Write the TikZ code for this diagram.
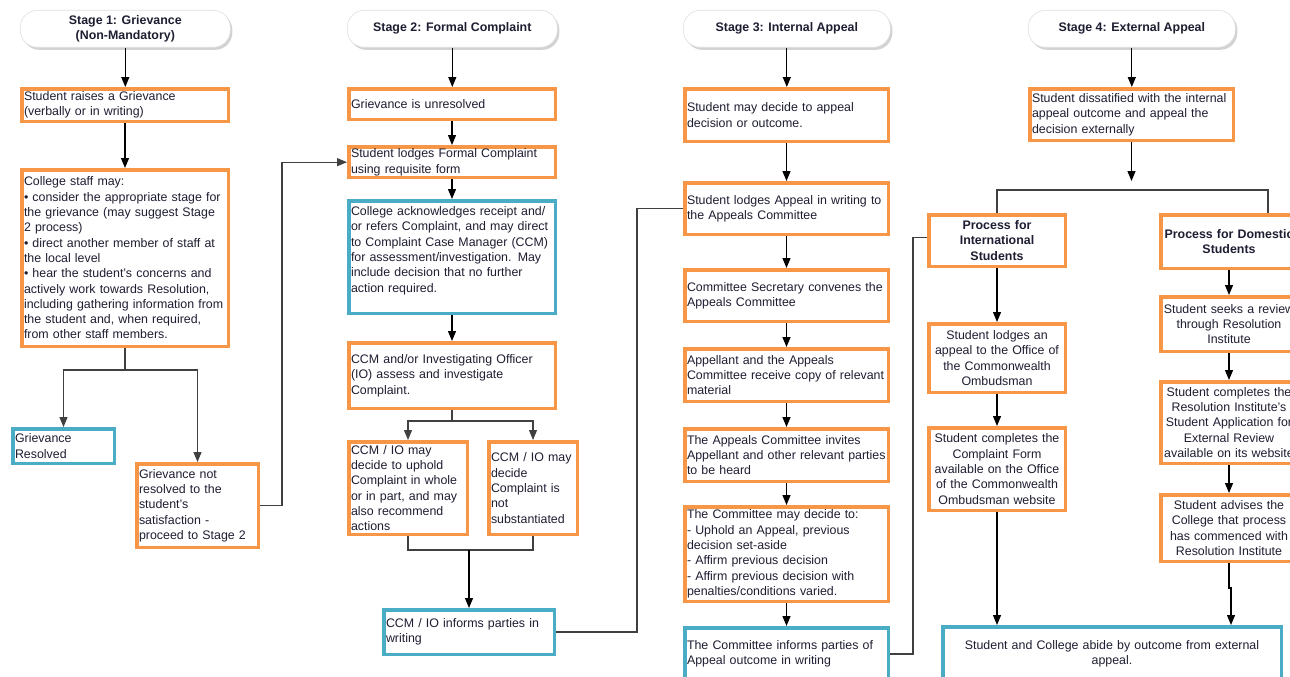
\documentclass[tikz,border=0pt]{standalone}
\usepackage{fontspec}
\setmainfont{Liberation Sans}
\usetikzlibrary{arrows.meta,shadows,calc}
\definecolor{orgC}{HTML}{F79646}
\definecolor{bluC}{HTML}{4BACC6}
\definecolor{txtC}{HTML}{1E1E32}
\begin{document}
\begin{tikzpicture}[x=1pt,y=-1pt,
  base/.style={font=\fontsize{12.4}{15.3}\selectfont, text=txtC, inner xsep=2.25pt, inner ysep=2pt, anchor=north west, fill=white},
  ob/.style={base, draw=orgC, line width=3.5pt},
  bb/.style={base, draw=bluC, line width=3.5pt},
  hdr/.style={font=\fontsize{12.4}{15.3}\selectfont\bfseries, text=txtC, rounded corners=17pt, draw=gray!25, line width=0.6pt, fill=white, drop shadow={shadow xshift=2pt, shadow yshift=-2.5pt, opacity=0.35, fill=gray}, align=center, anchor=north west, inner sep=0pt},
  arr/.style={-{Triangle[length=10pt,width=8pt]}, line width=1.2pt, draw=black},
  ln/.style={line width=1.1pt, draw=black!75},
  lnarr/.style={ln, -{Triangle[length=10pt,width=8pt]}},
]
\useasboundingbox (0,0) rectangle (1290,677);
\fill[white] (0,0) rectangle (1290,677);

% ---------- Stage 1 ----------
\node[hdr, minimum width=210pt, minimum height=37pt] (A0) at (20,10) {Stage 1: Grievance\\(Non-Mandatory)};
\node[ob, text width=202pt, minimum height=32.5pt, align=left] (A1) at (20,87) {Student raises a Grievance\\(verbally or in writing)};
\node[ob, text width=202pt, minimum height=176.5pt, align=left] (A2) at (20,168) {College staff may:\\• consider the appropriate stage for\\the grievance (may suggest Stage\\2 process)\\• direct another member of staff at\\the local level\\• hear the student's concerns and\\actively work towards Resolution,\\including gathering information from\\the student and, when required,\\from other staff members.};
\node[bb, text width=97pt, minimum height=34.5pt, align=left] (A3) at (11,427) {Grievance\\Resolved};
\node[ob, text width=117pt, minimum height=83.5pt, align=left] (A4) at (135,462) {Grievance not\\resolved to the\\student's\\satisfaction -\\proceed to Stage 2};

% ---------- Stage 2 ----------
\node[hdr, minimum width=210pt, minimum height=37pt] (B0) at (347,10) {Stage 2: Formal Complaint};
\node[ob, text width=202pt, minimum height=30.5pt, align=left] (B1) at (347,87) {Grievance is unresolved};
\node[ob, text width=202pt, minimum height=29.5pt, align=left] (B2) at (347,145) {Student lodges Formal Complaint\\using requisite form};
\node[bb, text width=202pt, minimum height=112.5pt, align=left] (B3) at (347,199) {College acknowledges receipt and/\\or refers Complaint, and may direct\\to Complaint Case Manager (CCM)\\for assessment/investigation. May\\include decision that no further\\action required.\\~};
\node[ob, text width=202pt, minimum height=65.5pt, align=left] (B4) at (347,341) {CCM and/or Investigating Officer\\(IO) assess and investigate\\Complaint.};
\node[ob, text width=114pt, minimum height=92.5pt, align=left] (B5) at (347,440) {CCM / IO may\\decide to uphold\\Complaint in whole\\or in part, and may\\also recommend\\actions};
\node[ob, text width=84pt, minimum height=92.5pt, align=left] (B6) at (487,440) {CCM / IO may\\decide\\Complaint is\\not\\substantiated};
\node[bb, text width=166pt, minimum height=44.5pt, align=left] (B7) at (382,608) {CCM / IO informs parties in\\writing};

% ---------- Stage 3 ----------
\node[hdr, minimum width=207pt, minimum height=37pt] (C0) at (683,10) {Stage 3: Internal Appeal};
\node[ob, text width=199pt, minimum height=52.5pt, align=left] (C1) at (683,87) {Student may decide to appeal\\decision or outcome.};
\node[ob, text width=199pt, minimum height=51.5pt, align=left] (C2) at (683,181) {Student lodges Appeal in writing to\\the Appeals Committee};
\node[ob, text width=199pt, minimum height=51.5pt, align=left] (C3) at (683,268) {Committee Secretary convenes the\\Appeals Committee};
\node[ob, text width=199pt, minimum height=52.5pt, align=left] (C4) at (683,347) {Appellant and the Appeals\\Committee receive copy of relevant\\material};
\node[ob, text width=199pt, minimum height=52.5pt, align=left] (C5) at (683,427) {The Appeals Committee invites\\Appellant and other relevant parties\\to be heard};
\node[ob, text width=199pt, minimum height=94.5pt, align=left] (C6) at (683,505) {The Committee may decide to:\\- Uphold an Appeal, previous\\decision set-aside\\- Affirm previous decision\\- Affirm previous decision with\\penalties/conditions varied.};
\node[bb, text width=199pt, minimum height=52.5pt, align=left] (C7) at (683,626) {The Committee informs parties of\\Appeal outcome in writing};

% ---------- Stage 4 ----------
\node[hdr, minimum width=207pt, minimum height=37pt] (D0) at (1028,10) {Stage 4: External Appeal};
\node[ob, text width=199pt, minimum height=51.5pt, align=left] (D1) at (1028,87) {Student dissatified with the internal\\appeal outcome and appeal the\\decision externally};
\node[ob, text width=132pt, minimum height=51.5pt, align=center, font=\fontsize{12.4}{15.3}\selectfont\bfseries] (D2) at (927,213) {Process for\\International\\Students};
\node[ob, text width=132pt, minimum height=68.5pt, align=center] (D3) at (927,322) {Student lodges an\\appeal to the Office of\\the Commonwealth\\Ombudsman};
\node[ob, text width=132pt, minimum height=82.5pt, align=center] (D4) at (927,426) {Student completes the\\Complaint Form\\available on the Office\\of the Commonwealth\\Ombudsman website};
\node[ob, text width=132pt, minimum height=53.5pt, align=center, font=\fontsize{12.4}{15.3}\selectfont\bfseries] (D5) at (1159,213) {Process for Domestic\\Students};
\node[ob, text width=132pt, minimum height=54.5pt, align=center] (D6) at (1159,295) {Student seeks a review\\through Resolution\\Institute};
\node[ob, text width=132pt, minimum height=81.5pt, align=center] (D7) at (1159,380) {Student completes the\\Resolution Institute's\\Student Application for\\External Review\\available on its website};
\node[ob, text width=132pt, minimum height=66.5pt, align=center] (D8) at (1159,493) {Student advises the\\College that process\\has commenced with\\Resolution Institute};
\node[bb, text width=334pt, minimum height=54.5pt, align=center] (D9) at (941,625) {Student and College abide by outcome from external\\appeal.};

% ---------- connectors: stage 1 ----------
\draw[arr] (A0.south) -- (A0.south |- A1.north);
\draw[arr] (A1.south) -- (A1.south |- A2.north);
\coordinate (a2s) at ($(A2.south)+(0,22)$);
\draw[ln] (A2.south) -- (a2s);
\draw[lnarr] (a2s) -| (A3.north);
\draw[lnarr] (a2s) -| (A4.north);
\coordinate (a4r) at ($(A4.east)+(22,0)$);
\draw[lnarr] (A4.east) -- (a4r) |- (B2.west);

% ---------- connectors: stage 2 ----------
\draw[arr] (B0.south) -- (B0.south |- B1.north);
\draw[arr] (B1.south) -- (B2.north);
\draw[arr] (B2.south) -- (B3.north);
\draw[arr] (B3.south) -- (B4.north);
\coordinate (b4s) at ($(B4.south)+(0,11)$);
\draw[ln] (B4.south) -- (b4s);
\draw[lnarr] (b4s) -| (B5.north);
\draw[lnarr] (b4s) -| (B6.north);
\coordinate (m56) at ($(B7.north)+(0,-58)$);
\draw[ln] (B5.south) |- (m56) -| (B6.south);
\draw[arr] (m56) -- (B7.north);
\coordinate (b7r) at ($(B7.east)+(81,0)$);
\draw[ln] (B7.east) -- (b7r) |- (C2.west);

% ---------- connectors: stage 3 ----------
\draw[arr] (C0.south) -- (C0.south |- C1.north);
\draw[arr] (C1.south) -- (C2.north);
\draw[arr] (C2.south) -- (C3.north);
\draw[arr] (C3.south) -- (C4.north);
\draw[arr] (C4.south) -- (C5.north);
\draw[arr] (C5.south) -- (C6.north);
\draw[arr] (C6.south) -- (C7.north);
\coordinate (c7r) at ($(C7.east)+(23,0)$);
\coordinate (d2l) at ($(D2.west)+(0,-3)$);
\draw[ln] (C7.east) -- (c7r) |- (d2l);

% ---------- connectors: stage 4 ----------
\draw[arr] (D0.south) -- (D0.south |- D1.north);
\coordinate (d1e) at ($(D1.south)+(0,39)$);
\draw[arr] (D1.south) -- (d1e);
\coordinate (jl) at ($(D2.north)+(0,-23)$);
\coordinate (d5t) at ($(D5.north)+(39,0)$);
\draw[ln] (D2.north) -- (jl) -| (d5t);
\draw[arr] (D2.south) -- (D3.north);
\draw[arr] (D3.south) -- (D4.north);
\draw[arr] (D4.south) -- (D4.south |- D9.north);
\draw[arr] (D5.south) -- (D6.north);
\draw[arr] (D6.south) -- (D7.north);
\draw[arr] (D7.south) -- (D8.north);
\coordinate (d8a) at ($(D8.south)+(0,25)$);
\coordinate (d8b) at ($(d8a)+(2,0)$);
\draw[arr] (D8.south) -- (d8a) -- (d8b) -- (d8b |- D9.north);
\end{tikzpicture}
\end{document}
